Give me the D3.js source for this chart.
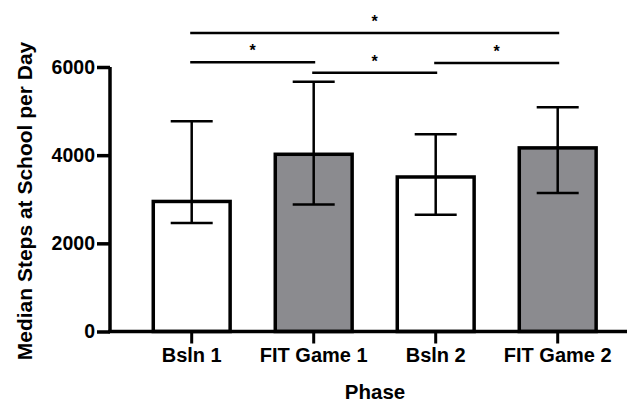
<!DOCTYPE html>
<html>
<head>
<meta charset="utf-8">
<script src="https://cdn.jsdelivr.net/npm/d3@7"></script>
<style>
  body { margin: 0; background: #fff; }
  svg text { font-family: "Liberation Sans", Arial, Helvetica, sans-serif; font-weight: bold; fill: #000; }
</style>
</head>
<body>
<div id="chart"></div>
<script>
// phases and values
const phases = ["Bsln 1", "FIT Game 1", "Bsln 2", "FIT Game 2"];
const medians = [2950, 4020, 3505, 4165];
const errLow = [2460, 2880, 2650, 3140];
const errHigh = [4770, 5665, 4475, 5085];
const fills = ["#ffffff", "#8b8b8f", "#ffffff", "#8b8b8f"];
const yTicks = [0, 2000, 4000, 6000];
// significance brackets: [from index, to index, level in steps]
const brackets = [[0, 3, 6770], [0, 1, 6110], [1, 2, 5870], [2, 3, 6090]];

let width = 627, height = 402;

let svg = d3.select("#chart").append("svg")
    .attr("width", width)
    .attr("height", height);

let x = d3.scaleBand()
    .domain(phases)
    .range([130.7, 618.7])
    .paddingInner(0.37)
    .paddingOuter(0.185);

let y = d3.scaleLinear()
    .domain([0, 6000])
    .range([331.5, 67]);

let cx = function(i) { return x(phases[i]) + x.bandwidth() / 2; };

// bars
svg.selectAll("rect.bar")
    .data(phases)
    .enter()
    .append("rect")
    .attr("class", "bar")
    .attr("x", function(d) { return x(d); })
    .attr("y", function(d, i) { return y(medians[i]); })
    .attr("width", x.bandwidth())
    .attr("height", function(d, i) { return y(0) - y(medians[i]); })
    .attr("fill", function(d, i) { return fills[i]; })
    .attr("stroke", "#000")
    .attr("stroke-width", 3.5);

// error bars
let capW = 42;
let eb = svg.selectAll("g.err")
    .data(phases)
    .enter()
    .append("g")
    .attr("class", "err")
    .attr("stroke", "#000")
    .attr("stroke-width", 2.5);
eb.append("line")
    .attr("x1", function(d, i) { return cx(i); })
    .attr("x2", function(d, i) { return cx(i); })
    .attr("y1", function(d, i) { return y(errLow[i]); })
    .attr("y2", function(d, i) { return y(errHigh[i]); });
eb.append("line")
    .attr("x1", function(d, i) { return cx(i) - capW / 2; })
    .attr("x2", function(d, i) { return cx(i) + capW / 2; })
    .attr("y1", function(d, i) { return y(errHigh[i]); })
    .attr("y2", function(d, i) { return y(errHigh[i]); });
eb.append("line")
    .attr("x1", function(d, i) { return cx(i) - capW / 2; })
    .attr("x2", function(d, i) { return cx(i) + capW / 2; })
    .attr("y1", function(d, i) { return y(errLow[i]); })
    .attr("y2", function(d, i) { return y(errLow[i]); });

// y axis
let yAxis = svg.append("g")
    .attr("transform", "translate(110,0)")
    .call(d3.axisLeft(y).tickValues(yTicks).tickSize(13).tickPadding(2).tickFormat(d3.format("d")));
yAxis.select(".domain").attr("stroke-width", 3.5).attr("d", "M0," + y(0) + "V" + y(6000));
yAxis.selectAll(".tick line").attr("stroke-width", 3.5);
yAxis.selectAll(".tick text").style("font-size", "19.5px");

// x axis
let xAxis = svg.append("g")
    .attr("transform", "translate(0," + y(0) + ")")
    .call(d3.axisBottom(x).tickSize(12).tickPadding(4));
xAxis.select(".domain").attr("stroke-width", 3.5).attr("d", "M108.3,0H627");
xAxis.selectAll(".tick line").attr("stroke-width", 3);
xAxis.selectAll(".tick text").style("font-size", "20px");

// brackets
let br = svg.selectAll("g.br")
    .data(brackets)
    .enter()
    .append("g")
    .attr("class", "br");
br.append("line")
    .attr("x1", function(d) { return cx(d[0]) - 1.5; })
    .attr("x2", function(d) { return cx(d[1]) + 1.5; })
    .attr("y1", function(d) { return y(d[2]); })
    .attr("y2", function(d) { return y(d[2]); })
    .attr("stroke", "#000")
    .attr("stroke-width", 2.5);
br.append("text")
    .attr("x", function(d) { return (cx(d[0]) + cx(d[1])) / 2; })
    .attr("y", function(d) { return y(d[2]) - 6; })
    .attr("text-anchor", "middle")
    .style("font-size", "16px")
    .text("*");

// axis titles
svg.append("text")
    .attr("transform", "translate(31.5,201) rotate(-90)")
    .attr("text-anchor", "middle")
    .style("font-size", "21px")
    .text("Median Steps at School per Day");

svg.append("text")
    .attr("x", 375)
    .attr("y", 399)
    .attr("text-anchor", "middle")
    .style("font-size", "20.5px")
    .text("Phase");
</script>
</body>
</html>
